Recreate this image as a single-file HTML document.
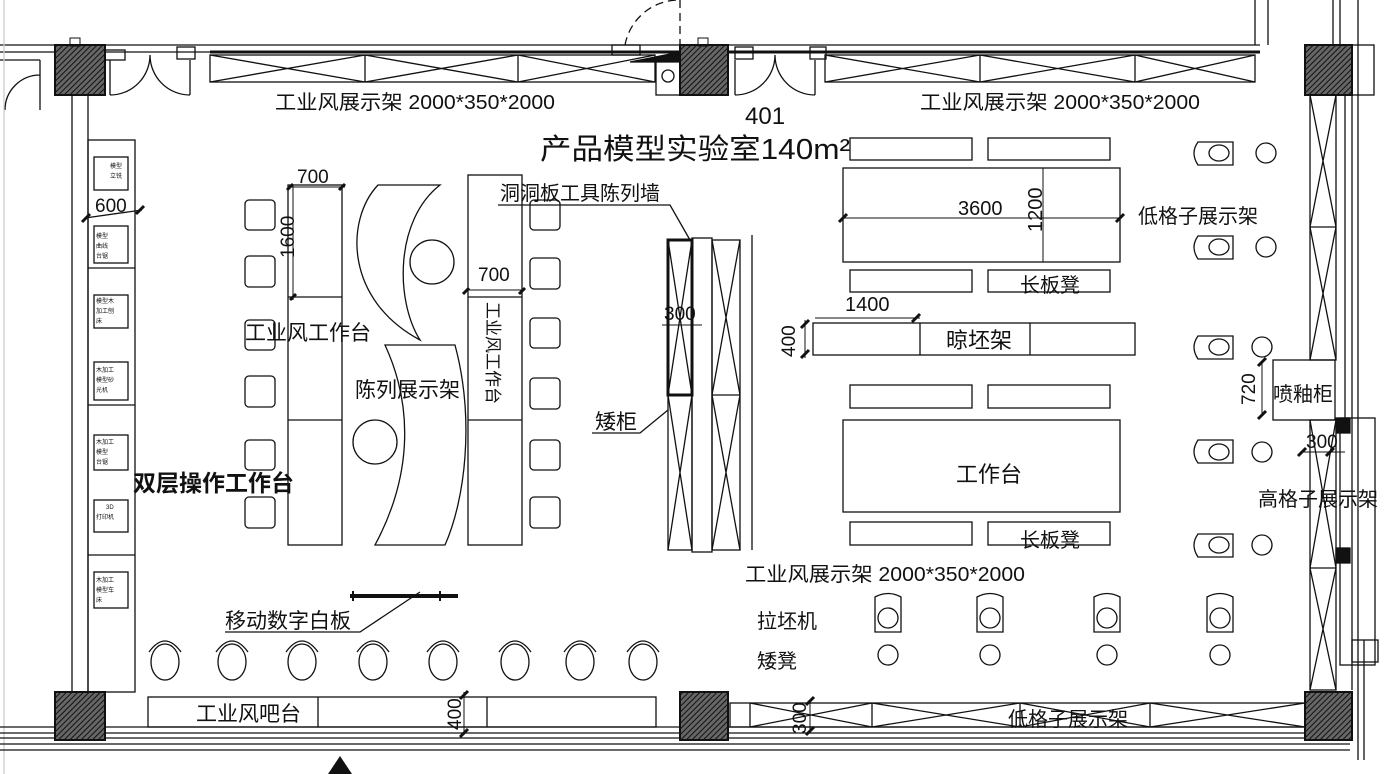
<!DOCTYPE html>
<html><head><meta charset="utf-8"><style>
html,body{margin:0;padding:0;background:#fff}
svg{display:block}
text{font-family:"Liberation Sans","Noto Sans CJK SC",sans-serif;fill:#111}
</style></head><body>
<svg width="1395" height="774" viewBox="0 0 1395 774" xmlns="http://www.w3.org/2000/svg">
<defs>
<pattern id="h" width="4" height="4" patternUnits="userSpaceOnUse" patternTransform="rotate(45)">
<rect width="4" height="4" fill="#666"/><line x1="0" y1="0" x2="0" y2="4" stroke="#111" stroke-width="2"/></pattern>
</defs>
<g fill="none" stroke="#111" stroke-width="1.3">
<line x1="0" y1="45" x2="1260" y2="45"/>
<line x1="0" y1="52" x2="210" y2="52"/>
<line x1="210" y1="52" x2="1260" y2="52" stroke-width="3"/>
<line x1="0" y1="60" x2="40" y2="60"/>
<line x1="1255" y1="45" x2="1255" y2="0"/><line x1="1268" y1="45" x2="1268" y2="0"/>
<line x1="1333" y1="45" x2="1333" y2="0"/><line x1="1340" y1="45" x2="1340" y2="0"/>
<rect x="1352" y="45" width="22" height="50"/>
<path d="M40 60 V110 M5 110 A35 35 0 0 1 40 75" />
<path d="M110 60 V95 M110 95 A40 40 0 0 0 150 55 M190 60 V95 M190 95 A40 40 0 0 1 150 55"/>
<rect x="105" y="50" width="20" height="10"/><rect x="177" y="47" width="18" height="12"/>
<path d="M625 45 A55 55 0 0 1 680 0" stroke-dasharray="8 5"/>
<line x1="680" y1="0" x2="680" y2="45" stroke-dasharray="8 5"/>
<rect x="612" y="45" width="28" height="10"/><rect x="656" y="58" width="24" height="37"/>
<circle cx="668" cy="76" r="6"/>
<polygon points="630,62 680,52 680,62" fill="#111"/>
<path d="M735 60 V95 M735 95 A40 40 0 0 0 775 55 M815 60 V95 M815 95 A40 40 0 0 1 775 55"/>
<rect x="735" y="47" width="18" height="12"/><rect x="810" y="47" width="16" height="12"/>
<rect x="210" y="55" width="445" height="27"/>
<path d="M365 55V82M518 55V82M210 55L365 82M210 82L365 55M365 55L518 82M365 82L518 55M518 55L655 82M518 82L655 55"/>
<rect x="825" y="55" width="430" height="27"/>
<path d="M980 55V82M1135 55V82M825 55L980 82M825 82L980 55M980 55L1135 82M980 82L1135 55M1135 55L1255 82M1135 82L1255 55"/>
<line x1="72" y1="95" x2="72" y2="692"/><line x1="88" y1="95" x2="88" y2="692"/>
<line x1="4" y1="0" x2="4" y2="774" stroke="#ccc"/>
<rect x="88" y="140" width="47" height="552"/>
<path d="M88 268H135M88 405H135M88 555H135"/>
<rect x="94" y="157" width="34" height="33"/><rect x="94" y="226" width="34" height="37"/>
<rect x="94" y="295" width="34" height="33"/><rect x="94" y="362" width="34" height="38"/>
<rect x="94" y="435" width="34" height="35"/><rect x="94" y="500" width="34" height="32"/>
<rect x="94" y="572" width="34" height="36"/>
<path d="M85 218L142 210" /><path d="M82 222l8-8M136 214l8-8" stroke-width="3"/>
<line x1="1345" y1="95" x2="1345" y2="418"/><line x1="1352" y1="95" x2="1352" y2="690"/>
<line x1="1358" y1="0" x2="1358" y2="760"/><line x1="1364" y1="640" x2="1364" y2="760"/>
<rect x="1310" y="95" width="26" height="265"/>
<path d="M1310 227H1336M1310 95L1336 227M1336 95L1310 227M1310 227L1336 360M1336 227L1310 360"/>
<rect x="1310" y="420" width="26" height="270"/>
<path d="M1310 568H1336M1310 420L1336 568M1336 420L1310 568M1310 568L1336 690M1336 568L1310 690"/>
<rect x="1340" y="418" width="35" height="247"/>
<rect x="1336" y="418" width="14" height="15" fill="#111"/><rect x="1336" y="548" width="14" height="15" fill="#111"/>
<rect x="1273" y="360" width="62" height="60"/>
<rect x="1352" y="640" width="26" height="22"/>
<path d="M0 727H680M0 733H1350M0 738H1350M0 744H1350M0 750H1350" />
<line x1="728" y1="727" x2="1305" y2="727"/>
<g>
<rect x="245" y="200" width="30" height="30" rx="4"/><rect x="245" y="256" width="30" height="31" rx="4"/>
<rect x="245" y="320" width="30" height="30" rx="4"/><rect x="245" y="376" width="30" height="31" rx="4"/>
<rect x="245" y="440" width="30" height="30" rx="4"/><rect x="245" y="497" width="30" height="31" rx="4"/>
<rect x="530" y="200" width="30" height="30" rx="4"/><rect x="530" y="258" width="30" height="31" rx="4"/>
<rect x="530" y="318" width="30" height="30" rx="4"/><rect x="530" y="378" width="30" height="31" rx="4"/>
<rect x="530" y="440" width="30" height="30" rx="4"/><rect x="530" y="497" width="30" height="31" rx="4"/>
</g>
<rect x="288" y="185" width="54" height="360"/><path d="M288 297H342M288 420H342"/>
<path d="M288 187H345M293 185V300" stroke-width="1"/><path d="M287 190l6-6M339 190l6-6M290 300l6-6" stroke-width="3"/>
<rect x="468" y="175" width="54" height="370"/><path d="M468 297H522M468 420H522"/>
<path d="M466 290H525" stroke-width="1"/><path d="M463 294l6-6M519 294l6-6" stroke-width="3"/>
<path d="M378 185H440C395 220 395 300 420 340C345 300 345 220 378 185Z"/>
<path d="M385 345H455C475 420 465 500 445 545H375C410 480 415 410 385 345Z"/>
<circle cx="432" cy="262" r="22"/><circle cx="375" cy="442" r="22"/>
<path d="M498 205H670L690 240"/>
<rect x="668" y="240" width="24" height="310"/>
<rect x="668" y="240" width="24" height="155" stroke-width="3"/>
<path d="M668 240L692 395M692 240L668 395M668 395L692 550M692 395L668 550"/>
<rect x="692" y="238" width="20" height="314"/>
<rect x="712" y="240" width="28" height="310"/>
<path d="M712 395H740M712 240L740 395M740 240L712 395M712 395L740 550M740 395L712 550"/>
<line x1="752" y1="235" x2="752" y2="550"/>
<path d="M662 325H702" stroke-width="1"/>
<path d="M592 433H640L668 410"/>
<rect x="850" y="138" width="122" height="22"/><rect x="988" y="138" width="122" height="22"/>
<rect x="843" y="168" width="277" height="94"/>
<path d="M843 218H1120M1043 168V262" stroke-width="1"/><path d="M839 222l8-8M1116 222l8-8" stroke-width="3"/>
<rect x="850" y="270" width="122" height="22"/><rect x="988" y="270" width="122" height="22"/>
<path d="M815 318H920" stroke-width="1"/><path d="M912 322l8-8" stroke-width="3"/>
<rect x="813" y="323" width="322" height="32"/><path d="M920 323V355M1030 323V355"/>
<path d="M805 320V358" stroke-width="1"/><path d="M801 328l8-8M801 358l8-8" stroke-width="3"/>
<rect x="850" y="385" width="122" height="23"/><rect x="988" y="385" width="122" height="23"/>
<rect x="843" y="420" width="277" height="92"/>
<rect x="850" y="522" width="122" height="23"/><rect x="988" y="522" width="122" height="23"/>
<g>
<path d="M875 632V597Q888 590 901 597V632Z"/><circle cx="888" cy="618" r="10"/><circle cx="888" cy="655" r="10"/>
<path d="M977 632V597Q990 590 1003 597V632Z"/><circle cx="990" cy="618" r="10"/><circle cx="990" cy="655" r="10"/>
<path d="M1094 632V597Q1107 590 1120 597V632Z"/><circle cx="1107" cy="618" r="10"/><circle cx="1107" cy="655" r="10"/>
<path d="M1207 632V597Q1220 590 1233 597V632Z"/><circle cx="1220" cy="618" r="10"/><circle cx="1220" cy="655" r="10"/>
</g>
<g>
<path d="M1198 142H1233V165H1198Q1190 153 1198 142Z"/><ellipse cx="1219" cy="153" rx="10" ry="8"/><circle cx="1266" cy="153" r="10"/>
<path d="M1198 236H1233V259H1198Q1190 247 1198 236Z"/><ellipse cx="1219" cy="247" rx="10" ry="8"/><circle cx="1266" cy="247" r="10"/>
<path d="M1198 336H1233V359H1198Q1190 347 1198 336Z"/><ellipse cx="1219" cy="347" rx="10" ry="8"/><circle cx="1262" cy="347" r="10"/>
<path d="M1198 440H1233V463H1198Q1190 452 1198 440Z"/><ellipse cx="1219" cy="452" rx="10" ry="8"/><circle cx="1262" cy="452" r="10"/>
<path d="M1198 534H1233V557H1198Q1190 545 1198 534Z"/><ellipse cx="1219" cy="545" rx="10" ry="8"/><circle cx="1262" cy="545" r="10"/>
</g>
<path d="M1262 362V415" stroke-width="1"/><path d="M1258 366l8-8M1258 419l8-8" stroke-width="3"/>
<path d="M1300 452H1345" stroke-width="1"/><path d="M1298 456l8-8M1326 456l8-8" stroke-width="3"/>
<g>
<ellipse cx="165" cy="662" rx="14" ry="18"/><path d="M149 652Q165 630 181 652"/>
<ellipse cx="232" cy="662" rx="14" ry="18"/><path d="M216 652Q232 630 248 652"/>
<ellipse cx="302" cy="662" rx="14" ry="18"/><path d="M286 652Q302 630 318 652"/>
<ellipse cx="373" cy="662" rx="14" ry="18"/><path d="M357 652Q373 630 389 652"/>
<ellipse cx="443" cy="662" rx="14" ry="18"/><path d="M427 652Q443 630 459 652"/>
<ellipse cx="515" cy="662" rx="14" ry="18"/><path d="M499 652Q515 630 531 652"/>
<ellipse cx="580" cy="662" rx="14" ry="18"/><path d="M564 652Q580 630 596 652"/>
<ellipse cx="643" cy="662" rx="14" ry="18"/><path d="M627 652Q643 630 659 652"/>
</g>
<rect x="148" y="697" width="508" height="30"/><path d="M318 697V727M487 697V727"/>
<path d="M464 692V735" stroke-width="1"/><path d="M460 699l8-8M460 737l8-8" stroke-width="3"/>
<rect x="730" y="703" width="575" height="24"/>
<path d="M750 703V727M872 703V727M1020 703V727M1150 703V727M750 703L872 727M750 727L872 703M872 703L1020 727M872 727L1020 703M1020 703L1150 727M1020 727L1150 703M1150 703L1305 727M1150 727L1305 703"/>
<path d="M810 700V732" stroke-width="1"/><path d="M806 705l8-8M806 735l8-8" stroke-width="3"/>
<line x1="350" y1="596" x2="458" y2="596" stroke-width="4"/>
<path d="M353 591V601M440 591V601" stroke-width="2"/>
<path d="M225 632H360L420 592"/>
</g>
<g fill="url(#h)" stroke="#111" stroke-width="2">
<rect x="55" y="45" width="50" height="50"/><rect x="680" y="45" width="48" height="50"/><rect x="1305" y="45" width="47" height="50"/>
<rect x="55" y="692" width="50" height="48"/><rect x="680" y="692" width="48" height="48"/><rect x="1305" y="692" width="47" height="48"/>
</g>
<rect x="70" y="38" width="10" height="8" fill="none" stroke="#111"/><rect x="698" y="38" width="10" height="8" fill="none" stroke="#111"/>
<polygon points="328,774 340,756 352,774" fill="#111"/>
<g font-size="20">
<text x="275" y="109" textLength="280" lengthAdjust="spacingAndGlyphs">工业风展示架 2000*350*2000</text>
<text x="920" y="109" textLength="280" lengthAdjust="spacingAndGlyphs">工业风展示架 2000*350*2000</text>
<text x="745" y="124" font-size="24">401</text>
<text x="540" y="159" font-size="29" textLength="310" lengthAdjust="spacingAndGlyphs">产品模型实验室140m²</text>
<text x="297" y="183" font-size="19">700</text>
<text transform="translate(294 258) rotate(-90)" font-size="19">1600</text>
<text x="95" y="212" font-size="19">600</text>
<text x="500" y="200">洞洞板工具陈列墙</text>
<text x="478" y="281" font-size="19">700</text>
<text x="245" y="340" font-size="21">工业风工作台</text>
<text x="355" y="397" font-size="21">陈列展示架</text>
<text x="133" y="491" font-size="23" font-weight="bold">双层操作工作台</text>
<text transform="translate(487 302) rotate(90)" font-size="17">工业风工作台</text>
<text x="664" y="320" font-size="19">300</text>
<text x="595" y="429" font-size="21">矮柜</text>
<text x="225" y="628" font-size="21">移动数字白板</text>
<text x="196" y="721" font-size="21" fill="#333">工业风吧台</text>
<text transform="translate(461 730) rotate(-90)" font-size="19">400</text>
<text transform="translate(806 734) rotate(-90)" font-size="19">300</text>
<text x="1008" y="726">低格子展示架</text>
<text x="958" y="215">3600</text>
<text transform="translate(1042 232) rotate(-90)">1200</text>
<text x="1138" y="223">低格子展示架</text>
<text x="1020" y="292">长板凳</text>
<text x="845" y="311">1400</text>
<text x="946" y="348" font-size="22">晾坯架</text>
<text transform="translate(795 357) rotate(-90)" font-size="19">400</text>
<text x="956" y="482" font-size="22">工作台</text>
<text x="1020" y="547">长板凳</text>
<text x="745" y="581" fill="#333" textLength="280" lengthAdjust="spacingAndGlyphs">工业风展示架 2000*350*2000</text>
<text x="757" y="628" font-size="20">拉坯机</text>
<text x="757" y="668" font-size="20">矮凳</text>
<text x="1273" y="401">喷釉柜</text>
<text transform="translate(1255 405) rotate(-90)" font-size="19">720</text>
<text x="1306" y="448" font-size="19">300</text>
<text x="1258" y="506">高格子展示架</text>
</g>
<g font-size="6" fill="#555">
<text x="110" y="168">模型</text><text x="110" y="178">立铣</text>
<text x="96" y="238">模型</text><text x="96" y="248">曲线</text><text x="96" y="258">台锯</text>
<text x="96" y="303">模型木</text><text x="96" y="313">加工刨</text><text x="96" y="323">床</text>
<text x="96" y="372">木加工</text><text x="96" y="382">模型砂</text><text x="96" y="392">光机</text>
<text x="96" y="444">木加工</text><text x="96" y="454">模型</text><text x="96" y="464">台锯</text>
<text x="106" y="509">3D</text><text x="96" y="519">打印机</text>
<text x="96" y="582">木加工</text><text x="96" y="592">模型车</text><text x="96" y="602">床</text>
</g>
</svg>
</body></html>
